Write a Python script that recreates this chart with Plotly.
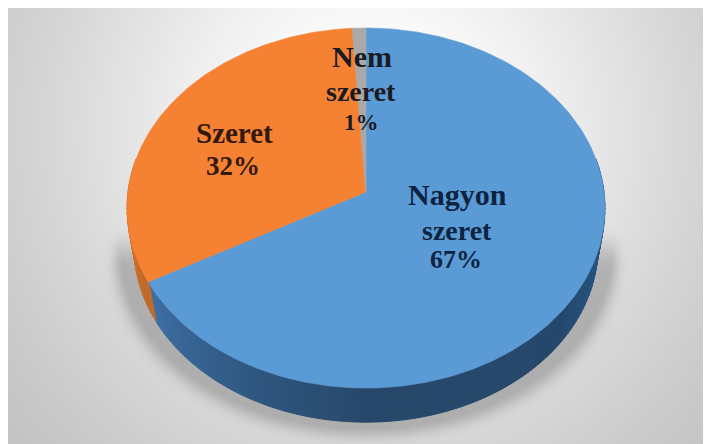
import numpy as np
import plotly.graph_objects as go

# --- data -------------------------------------------------------------
categories = ["Nagyon szeret", "Szeret", "Nem szeret"]
shares = [67, 32, 1]
label_text = ["Nagyon", "szeret", "67%", "Szeret", "32%", "Nem", "szeret", "1%"]
label_owner = [0, 0, 0, 1, 1, 2, 2, 2]

# --- style / geometry (all in window pixels) ----------------------------
W, H = 711, 444
PAGE_MARGIN = 8  # the page itself insets the figure, which gives the white edge
top_colors = ["#5B9BD5", "#F58232", "#A9A9A9"]
text_colors = ["#0E2340", "#33190D", "#1A1A22"]
label_x = [457, 457, 456, 234.5, 233, 362, 360.5, 361.5]
label_y = [194, 230, 259, 133, 166, 56, 91, 122]
label_size = [30, 28, 26, 29, 27, 30, 28, 23]
CX, CY, A, B, K = 366, 192, 238, 178.6, 0.089
SIDE_SCALE, SIDE_DROP = 0.97, 40


def rim(turn, scale=1.0, drop=0.0):
    """Perspective disc: turn is the clockwise fraction of a circle from 12 o'clock."""
    t = 2 * np.pi * np.asarray(turn, dtype=float)
    u, v = np.sin(t), np.cos(t)
    d = 1 + K * v
    return CX + scale * A * u / d, CY + drop - scale * B * v / d


def mix(stops, f):
    xs = [s[0] for s in stops]
    rgb = [np.interp(f, xs, [s[1][i] for s in stops]) for i in range(3)]
    return "rgb(%d,%d,%d)" % tuple(int(round(c)) for c in rgb)


# --- background: soft radial grey plus the pie's cast shadow -----------
yy, xx = np.mgrid[0:H, 0:W] + 0.5
r2 = ((xx - 370) / 380) ** 2 + ((yy - 130) / 392) ** 2
grey = 255 - 72 * (1 - np.exp(-1.16 * r2))
dist = (np.sqrt(((xx - 366) / 243) ** 2 + ((yy - 250) / 176) ** 2) - 1) * 215
ramp = np.clip((yy - 225) / 45, 0, 1)
ramp = ramp * ramp * (3 - 2 * ramp)
sigma = 9 + 6 * np.clip((yy - 250) / 170, 0, 1)
shadow = 46 * np.exp(-(np.clip(dist, 0, None) / sigma) ** 2) * ramp
grey = grey - shadow
bg = np.clip(np.round(grey), 0, 255).astype(int)
bg_rgb = np.stack([bg, bg, bg], axis=2)

fig = go.Figure()
fig.add_trace(go.Image(z=bg_rgb, x0=0.5, y0=0.5, dx=1, dy=1, hoverinfo="skip", colormodel="rgb"))

# --- side wall ---------------------------------------------------------
cum = np.cumsum([0] + shares) / sum(shares)
blue_stops = [(0.25, (40, 92, 142)), (0.36, (36, 72, 108)), (0.5, (39, 72, 106)),
              (0.58, (48, 88, 130)), (cum[1], (62, 112, 165))]
orange_stops = [(cum[1], (190, 104, 40)), (0.75, (214, 116, 46))]
edges = np.linspace(0.22, 0.78, 141)
for a, b in zip(edges[:-1], edges[1:]):
    mid = (a + b) / 2
    if a < cum[1] <= b:
        b = cum[1]
    ts = np.array([a, b])
    x1, y1 = rim(ts)
    x2, y2 = rim(ts, SIDE_SCALE, SIDE_DROP)
    col = mix(blue_stops, mid) if mid < cum[1] else mix(orange_stops, mid)
    fig.add_trace(go.Scatter(
        x=[x1[0], x1[1], x2[1], x2[0], x1[0]], y=[y1[0], y1[1], y2[1], y2[0], y1[0]],
        mode="lines", fill="toself", fillcolor=col, line=dict(color=col, width=1),
        hoverinfo="skip", showlegend=False))

# --- top face: one slice per value ------------------------------------
for i, name in enumerate(categories):
    ts = np.linspace(cum[i], cum[i + 1], max(4, int(shares[i] * 4)))
    x, y = rim(ts)
    px = np.concatenate([[CX], x, [CX]])
    py = np.concatenate([[CY], y, [CY]])
    fig.add_trace(go.Scatter(
        x=px, y=py, mode="lines", fill="toself", fillcolor=top_colors[i],
        line=dict(color=top_colors[i], width=0.6), name=name,
        hoverinfo="name", showlegend=False))

# --- labels ------------------------------------------------------------
for i, txt in enumerate(label_text):
    fig.add_annotation(x=label_x[i], y=label_y[i], text="<b>%s</b>" % txt, showarrow=False,
                       xanchor="center", yanchor="middle",
                       font=dict(family="Liberation Serif", size=label_size[i],
                                 color=text_colors[label_owner[i]]))

fig.update_layout(
    width=W - PAGE_MARGIN, height=H - PAGE_MARGIN, margin=dict(l=0, r=0, t=0, b=0), autosize=False,
    paper_bgcolor="white", plot_bgcolor="white", showlegend=False,
    xaxis=dict(range=[PAGE_MARGIN, W], visible=False, fixedrange=True, domain=[0, 1]),
    yaxis=dict(range=[H, PAGE_MARGIN], visible=False, fixedrange=True, domain=[0, 1]),
)
fig.write_html("out.html", config={"displayModeBar": False})
